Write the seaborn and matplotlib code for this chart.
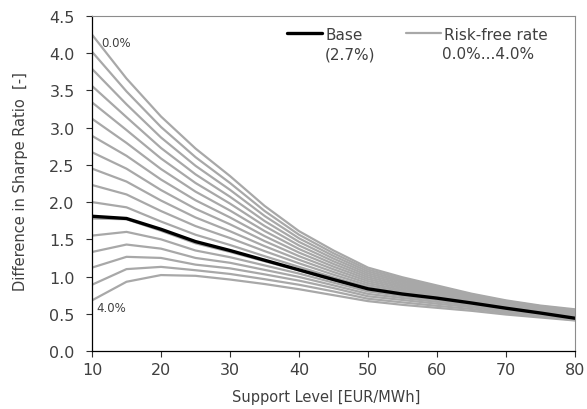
import numpy as np
import pandas as pd
import matplotlib
matplotlib.use("Agg")
import matplotlib.pyplot as plt
import seaborn as sns

sns.set_style("white")
plt.rcParams["font.family"] = ["DejaVu Sans"]

support = [10, 15, 20, 25, 30, 35, 40, 45, 50, 55, 60, 65, 70, 75, 80]

rf_labels = ["0.00%", "0.25%", "0.50%", "0.75%", "1.00%", "1.25%", "1.50%", "1.75%", "2.00%",
             "2.25%", "2.50%", "2.75%", "3.00%", "3.25%", "3.50%", "3.75%", "4.00%"]

rf_000 = [4.25, 3.66, 3.15, 2.72, 2.35, 1.95, 1.61, 1.35, 1.12, 0.99, 0.88, 0.77, 0.68, 0.61, 0.56]
rf_025 = [4.02, 3.487, 3.009, 2.604, 2.257, 1.882, 1.562, 1.313, 1.094, 0.969, 0.865, 0.758, 0.67, 0.601, 0.549]
rf_050 = [3.79, 3.314, 2.868, 2.488, 2.165, 1.815, 1.514, 1.277, 1.068, 0.948, 0.85, 0.746, 0.66, 0.592, 0.538]
rf_075 = [3.56, 3.141, 2.727, 2.373, 2.072, 1.747, 1.466, 1.241, 1.042, 0.928, 0.835, 0.735, 0.65, 0.583, 0.527]
rf_100 = [3.34, 2.968, 2.586, 2.257, 1.98, 1.68, 1.418, 1.205, 1.016, 0.907, 0.82, 0.723, 0.641, 0.574, 0.516]
rf_125 = [3.12, 2.795, 2.444, 2.141, 1.887, 1.612, 1.370, 1.169, 0.990, 0.886, 0.805, 0.711, 0.631, 0.565, 0.505]
rf_150 = [2.89, 2.622, 2.303, 2.025, 1.794, 1.544, 1.322, 1.133, 0.964, 0.865, 0.79, 0.70, 0.622, 0.556, 0.494]
rf_175 = [2.67, 2.449, 2.162, 1.91, 1.702, 1.477, 1.274, 1.097, 0.938, 0.844, 0.775, 0.688, 0.612, 0.547, 0.483]
rf_200 = [2.45, 2.276, 2.021, 1.794, 1.609, 1.409, 1.226, 1.061, 0.911, 0.823, 0.76, 0.676, 0.602, 0.538, 0.472]
rf_225 = [2.23, 2.103, 1.88, 1.678, 1.517, 1.342, 1.178, 1.025, 0.884, 0.803, 0.745, 0.665, 0.593, 0.529, 0.461]
rf_250 = [2.00, 1.93, 1.739, 1.562, 1.424, 1.274, 1.13, 0.989, 0.857, 0.782, 0.73, 0.653, 0.583, 0.52, 0.45]
rf_275 = [1.78, 1.77, 1.615, 1.447, 1.331, 1.206, 1.081, 0.952, 0.828, 0.761, 0.71, 0.641, 0.573, 0.511, 0.439]
rf_300 = [1.55, 1.60, 1.50, 1.35, 1.26, 1.15, 1.04, 0.918, 0.80, 0.737, 0.685, 0.625, 0.56, 0.50, 0.433]
rf_325 = [1.33, 1.43, 1.375, 1.25, 1.185, 1.09, 0.995, 0.882, 0.767, 0.712, 0.66, 0.607, 0.545, 0.49, 0.427]
rf_350 = [1.12, 1.265, 1.25, 1.16, 1.11, 1.03, 0.945, 0.845, 0.735, 0.685, 0.635, 0.588, 0.53, 0.478, 0.421]
rf_375 = [0.89, 1.10, 1.13, 1.085, 1.035, 0.965, 0.89, 0.80, 0.702, 0.653, 0.607, 0.564, 0.51, 0.464, 0.415]
rf_400 = [0.68, 0.93, 1.02, 1.01, 0.96, 0.90, 0.83, 0.75, 0.67, 0.62, 0.58, 0.54, 0.49, 0.45, 0.41]

base = [1.81, 1.78, 1.635, 1.47, 1.35, 1.22, 1.09, 0.96, 0.835, 0.765, 0.71, 0.645, 0.575, 0.51, 0.44]

rf_series = [rf_000, rf_025, rf_050, rf_075, rf_100, rf_125, rf_150, rf_175, rf_200,
             rf_225, rf_250, rf_275, rf_300, rf_325, rf_350, rf_375, rf_400]

rows = []
for lab, vals in zip(rf_labels, rf_series):
    for x, v in zip(support, vals):
        rows.append({"support": x, "sharpe": v, "rate": lab})
df = pd.DataFrame(rows)
df_base = pd.DataFrame({"support": support, "sharpe": base})

gray = "#a8a8a8"
txt = "#404040"
fig = plt.figure(figsize=(5.87, 4.10), dpi=100)
ax = fig.add_axes([92 / 587, 1 - 352 / 410, 483 / 587, 335 / 410])

sns.lineplot(data=df, x="support", y="sharpe", hue="rate", palette=[gray] * len(rf_labels),
             estimator=None, sort=False, linewidth=1.6, legend=False, ax=ax)
sns.lineplot(data=df_base, x="support", y="sharpe", color="black", linewidth=2.4,
             estimator=None, sort=False, ax=ax)

ax.set_xlim(10, 80)
ax.set_ylim(0, 4.5)
ax.set_xticks(range(10, 81, 10))
yt = np.arange(0, 4.51, 0.5)
ax.set_yticks(yt)
ax.set_yticklabels([f"{t:.1f}" for t in yt])
ax.tick_params(axis="both", direction="out", length=4, width=0.8, colors="#303030",
               labelsize=11.5, labelcolor=txt, left=True, bottom=True)
ax.tick_params(axis="y", pad=8.5)
ax.tick_params(axis="x", pad=4)
for side in ["left", "bottom"]:
    ax.spines[side].set_color("black")
    ax.spines[side].set_linewidth(0.9)
for side in ["top", "right"]:
    ax.spines[side].set_color("#8c8c8c")
    ax.spines[side].set_linewidth(0.8)

ax.set_xlabel("Support Level [EUR/MWh]", fontsize=10.5, color=txt)
ax.set_ylabel("Difference in Sharpe Ratio  [-]", fontsize=10.5, color=txt)
ax.xaxis.set_label_coords(0.485, -0.114)
ax.yaxis.set_label_coords(-0.133, 0.51)

ax.text(11.4, 4.15, "0.0%", fontsize=8.5, color=txt, va="center")
ax.text(10.6, 0.58, "4.0%", fontsize=8.5, color=txt, va="center")

h_base, = ax.plot([], [], color="black", linewidth=2.4)
h_rf, = ax.plot([], [], color=gray, linewidth=1.6)
leg = ax.legend([h_base, h_rf], ["Base", "Risk-free rate"], ncol=2, frameon=False,
                loc="center left", bbox_to_anchor=(0.4037, 0.946), fontsize=11,
                handlelength=2.29, handletextpad=0.2, columnspacing=2.85,
                borderpad=0, borderaxespad=0)
for t in leg.get_texts():
    t.set_color(txt)
ax.text(0.482, 0.887, "(2.7%)", transform=ax.transAxes, fontsize=11, color=txt, va="center")
ax.text(0.7246, 0.887, "0.0%...4.0%", transform=ax.transAxes, fontsize=11, color=txt, va="center")

fig.savefig("out.png", dpi=100)
